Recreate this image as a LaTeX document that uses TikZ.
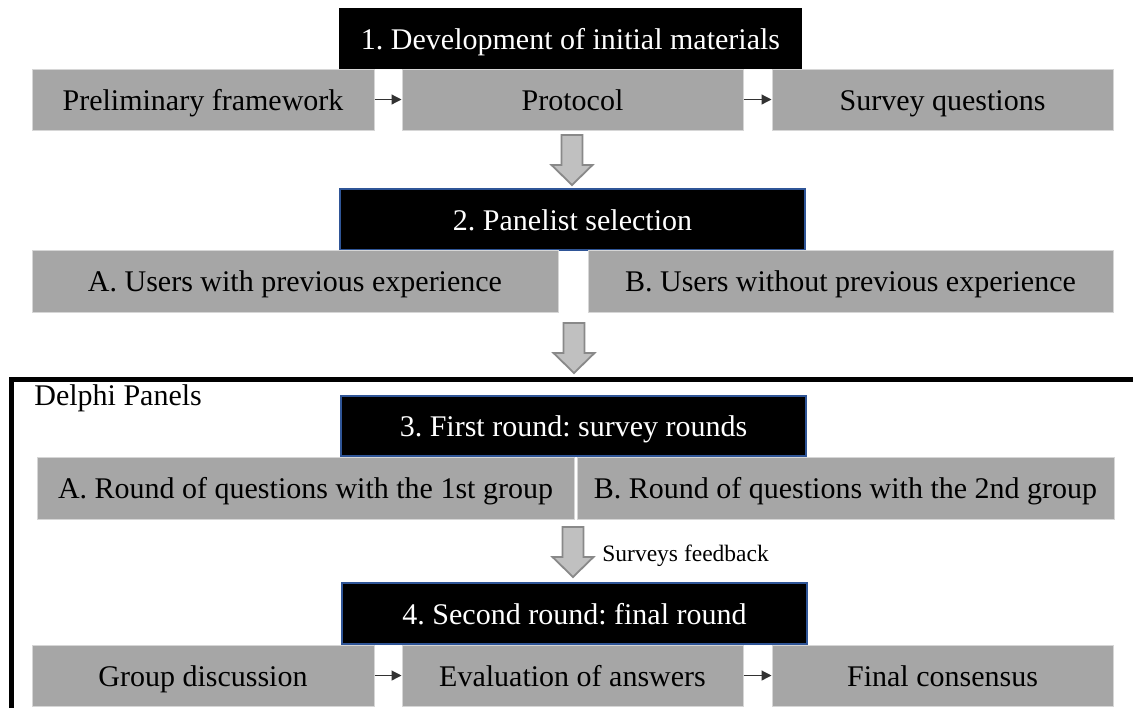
\documentclass[tikz,border=0pt]{standalone}
\usepackage{fontspec}
\setmainfont{Liberation Serif}
\usetikzlibrary{arrows.meta}

\definecolor{boxgray}{RGB}{166,166,166}
\definecolor{boxedge}{RGB}{214,214,214}
\definecolor{stepblue}{RGB}{47,85,151}
\definecolor{arrfill}{RGB}{192,192,192}
\definecolor{arredge}{RGB}{137,137,137}
\definecolor{linkgray}{RGB}{50,50,50}

\begin{document}
\frenchspacing
\begin{tikzpicture}[x=0.5pt,y=-0.5pt,
  base/.style={rectangle, inner sep=0pt, text height=10.5pt, text depth=0pt,
               font=\fontsize{15}{18}\selectfont},
  stage/.style={base, fill=black, text=white, minimum height=30.5pt},
  stageb/.style={stage, draw=stepblue, line width=0.8pt},
  item/.style={base, fill=boxgray, draw=boxedge, line width=0.5pt,
               minimum height=30.5pt, text=black},
  link/.style={draw=linkgray, line width=0.6pt, -{Triangle[length=5pt,width=5pt]}},
  blockarr/.style={fill=arrfill, draw=arredge, line width=0.9pt, line join=miter},
  blockdown/.pic={\draw[blockarr] (-10.5,0) -- (10.5,0) -- (10.5,30) -- (20.5,30)
                   -- (0,50) -- (-20.5,30) -- (-10.5,30) -- cycle;},
  note/.style={inner sep=0pt, anchor=base west}
]
\useasboundingbox[fill=white] (0,0) rectangle (1133,708);

% outer frame of the Delphi panels (open on the right and bottom)
\draw[line width=2.5pt, line join=miter] (11.5,708) -- (11.5,379) -- (1133,379);
\node[note, font=\fontsize{15}{18}\selectfont] (dp) at (34,405) {Delphi Panels};

% 1. development of initial materials
\node[stage, minimum width=231.5pt] (s1) at (570.5,38.5) {1. Development of initial materials};
\node[item, minimum width=171pt]   (pf) at (203,99.5)   {Preliminary framework};
\node[item, minimum width=170.5pt] (pr) at (572.5,99.5) {Protocol};
\node[item, minimum width=170.5pt] (sq) at (942.5,99.5) {Survey questions};
\draw[link] (pf.east) -- (pr.west);
\draw[link] (pr.east) -- (sq.west);

\pic at (572,135) {blockdown};

% 2. panelist selection
\node[stageb, minimum width=232.5pt] (s2) at (572.5,219.5) {2. Panelist selection};
\node[item, minimum width=263pt,   minimum height=31pt] (ua) at (295,281)   {A. Users with previous experience};
\node[item, minimum width=262.5pt, minimum height=31pt] (ub) at (850.5,281) {B. Users without previous experience};

\pic at (574,323) {blockdown};

% 3. first round
\node[stageb, minimum width=232.5pt, minimum height=30pt] (s3) at (573.5,426) {3. First round: survey rounds};
\node[item, minimum width=268.5pt, minimum height=31pt] (ra) at (305.5,488) {A. Round of questions with the 1st group};
\node[item, minimum width=268.5pt, minimum height=31pt] (rb) at (845.5,488) {B. Round of questions with the 2nd group};

\pic at (573,527) {blockdown};
\node[note, font=\fontsize{11.75}{14}\selectfont] (fb) at (602,561) {Surveys feedback};

% 4. second round
\node[stageb, minimum width=232.5pt] (s4) at (574.5,613.5) {4. Second round: final round};
\node[item, minimum width=171pt]   (gd) at (203,675.5)   {Group discussion};
\node[item, minimum width=170.5pt] (ev) at (572.5,675.5) {Evaluation of answers};
\node[item, minimum width=170.5pt] (fc) at (942.5,675.5) {Final consensus};
\draw[link] (gd.east) -- (ev.west);
\draw[link] (ev.east) -- (fc.west);
\end{tikzpicture}
\end{document}
